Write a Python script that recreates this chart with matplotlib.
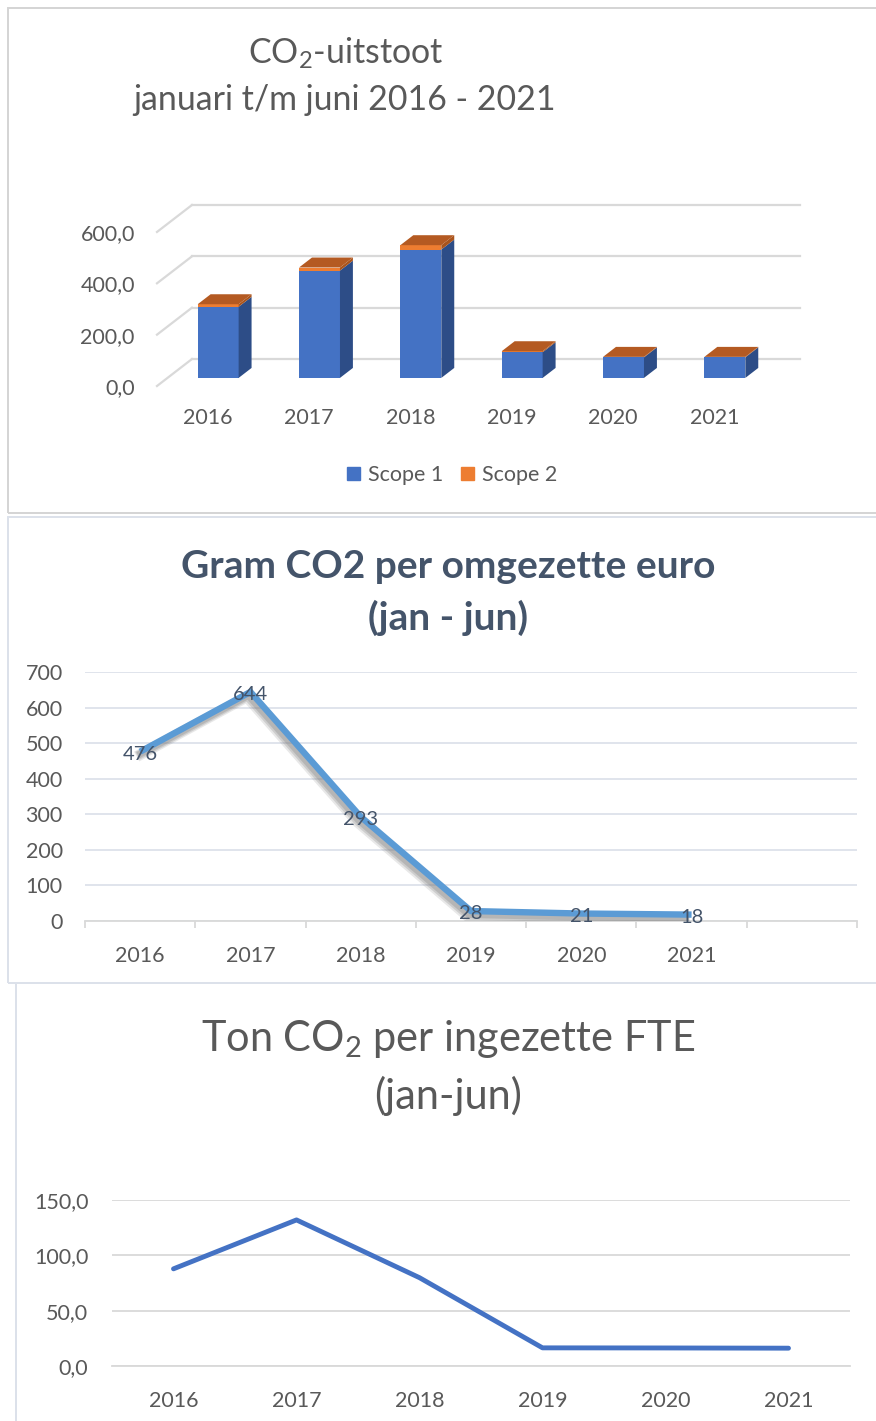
import matplotlib
matplotlib.use('Agg')
import matplotlib.pyplot as plt
from matplotlib.patches import Polygon, Rectangle, Patch
import matplotlib.patheffects as pe
import numpy as np

# ---------------- data ----------------
years = ['2016', '2017', '2018', '2019', '2020', '2021']

scope1 = [277, 418, 500, 100, 80, 80]
scope2 = [10, 12, 17, 4, 2, 2]
co2_yticks = [0, 200, 400, 600]
co2_ytick_labels = ['0,0', '200,0', '400,0', '600,0']

gram_per_euro = [476, 644, 293, 28, 21, 18]
gram_yticks = [0, 100, 200, 300, 400, 500, 600, 700]

ton_per_fte = [87.8, 132.0, 79.8, 16.4, 16.3, 16.1]
fte_yticks = [0, 50, 100, 150]
fte_ytick_labels = ['0,0', '50,0', '100,0', '150,0']

# ---------------- style ----------------
plt.rcParams['font.family'] = ['Lato', 'DejaVu Sans']
plt.rcParams['mathtext.fontset'] = 'custom'
plt.rcParams['mathtext.rm'] = 'Lato'
plt.rcParams['mathtext.it'] = 'Lato:italic'
plt.rcParams['mathtext.bf'] = 'Lato:bold'

GRAY_TXT = '#595959'
GRID = '#D9D9D9'
TICK_FS = 15.5

W, H = 876, 1421
fig = plt.figure(figsize=(W / 100, H / 100), dpi=100)
fig.patch.set_facecolor('white')


def ax_px(x0, y0, x1, y1):
    return fig.add_axes([x0 / W, 1 - y1 / H, (x1 - x0) / W, (y1 - y0) / H])


def fig_text(x, y, s, **kw):
    return fig.text(x / W, 1 - y / H, s, ha='center', va='center', **kw)


def fit(texts, target_px):
    r = fig.canvas.get_renderer()
    w = texts[0].get_window_extent(r).width
    fs = texts[0].get_fontsize() * target_px / w
    for t in texts:
        t.set_fontsize(fs)


# panel borders
fig.add_artist(Rectangle((8 / W, 1 - 513 / H), (W + 20) / W, (513 - 8) / H,
                         transform=fig.transFigure, fill=False, ec='#D4D4D4', lw=1.4))
fig.add_artist(Rectangle((8 / W, 1 - 983 / H), (W + 20) / W, (983 - 517) / H,
                         transform=fig.transFigure, fill=False, ec='#DCE1EA', lw=1.4))
fig.add_artist(Rectangle((16 / W, -0.05), (W + 20) / W, 1 - 983 / H + 0.05,
                         transform=fig.transFigure, fill=False, ec='#DCE1EA', lw=1.4))

# ================= Panel 1: 3D stacked bars =================
DXu, DYu = 0.345, 105.0     # depth offset (category units, value units)
zf, zb = 0.30, 0.67          # bar depth range
bw = 0.404

ax1 = ax_px(157, 205, 800, 386)
ax1.set_xlim(-0.5, 5.5 + DXu)
ax1.set_ylim(0, 600 + DYu)
for s in ax1.spines.values():
    s.set_visible(False)
ax1.patch.set_alpha(0)

for v in co2_yticks:
    ax1.plot([-0.5 + DXu, 5.5 + DXu], [v + DYu] * 2, color=GRID, lw=1.6, zorder=1, clip_on=False)
    ax1.plot([-0.5, -0.5 + DXu], [v, v + DYu], color=GRID, lw=1.6, zorder=1, clip_on=False)

dzx = (zb - zf) * DXu
dzy = (zb - zf) * DYu
base = zf * DYu
xcs = np.arange(len(years)) + zf * DXu
ax1.bar(xcs, scope1, bottom=base, width=bw, color='#4472C4', zorder=3)
ax1.bar(xcs, scope2, bottom=base + np.array(scope1), width=bw, color='#ED7D31', zorder=3)
for xc, a, b in zip(xcs, scope1, scope2):
    x1 = xc + bw / 2
    x0 = xc - bw / 2
    top1 = base + a
    top2 = top1 + b
    ax1.add_patch(Polygon([(x1, base), (x1 + dzx, base + dzy), (x1 + dzx, top1 + dzy), (x1, top1)],
                          closed=True, fc='#2D4D87', ec='none', zorder=3))
    ax1.add_patch(Polygon([(x1, top1), (x1 + dzx, top1 + dzy), (x1 + dzx, top2 + dzy), (x1, top2)],
                          closed=True, fc='#A9541C', ec='none', zorder=3))
    ax1.add_patch(Polygon([(x0, top2), (x1, top2), (x1 + dzx, top2 + dzy), (x0 + dzx, top2 + dzy)],
                          closed=True, fc='#B45A22', ec='none', zorder=3))

ax1.set_yticks(co2_yticks, co2_ytick_labels)
ax1.set_xticks(range(len(years)), years)
ax1.tick_params(axis='both', length=0, colors=GRAY_TXT, labelsize=TICK_FS)
ax1.tick_params(axis='y', pad=16)
ax1.tick_params(axis='x', pad=16)

fig.legend(handles=[Patch(color='#4472C4', label='Scope 1'), Patch(color='#ED7D31', label='Scope 2')],
           loc='center', bbox_to_anchor=(452 / W, 1 - 475 / H), ncol=2, frameon=False,
           handlelength=0.6, handleheight=0.6, handletextpad=0.4, columnspacing=0.8,
           fontsize=15.5, labelcolor=GRAY_TXT)

t1a = fig_text(346, 53, r'CO$_{\mathregular{2}}$-uitstoot', color=GRAY_TXT, fontsize=20)
t1b = fig_text(345, 100, 'januari t/m juni 2016 - 2021', color=GRAY_TXT, fontsize=20)
fit([t1b, t1a], 424)

# ================= Panel 2: gram CO2 per euro =================
ax2 = ax_px(85, 672, 857, 921)
ax2.set_xlim(-0.5, 6.5)
ax2.set_ylim(0, 700)
for k, s in ax2.spines.items():
    s.set_visible(k == 'bottom')
ax2.spines['bottom'].set_color(GRID)
ax2.spines['bottom'].set_linewidth(1.3)
ax2.set_yticks(gram_yticks)
ax2.yaxis.grid(True, color='#DDE2EA', lw=1.3)
ax2.set_axisbelow(True)
ax2.set_xticks(range(len(years)), years)
ax2.set_xticks(np.arange(-0.5, 7.0, 1.0), minor=True)
ax2.tick_params(axis='x', which='minor', length=5, color=GRID, width=1.3)
ax2.tick_params(axis='x', which='major', length=0, pad=18, colors=GRAY_TXT, labelsize=TICK_FS)
ax2.tick_params(axis='y', length=0, pad=16, colors=GRAY_TXT, labelsize=TICK_FS)

shadows = [pe.SimpleLineShadow(offset=off, shadow_color='#808080', alpha=al, linewidth=lw)
           for off, al, lw in [((-2.5, -3.5), 0.18, 8.0), ((-2.0, -3.0), 0.25, 6.5), ((-1.5, -2.5), 0.3, 5.0)]]
ax2.plot(range(len(years)), gram_per_euro, color='#5B9BD5', lw=4.6,
         solid_joinstyle='miter', solid_capstyle='butt', zorder=3,
         path_effects=shadows + [pe.Normal()])
for i, v in enumerate(gram_per_euro):
    ax2.text(i, v - 8, str(v), ha='center', va='center', color='#44546A', fontsize=14.5, zorder=4)

t2a = fig_text(448, 566, 'Gram CO2 per omgezette euro', color='#44546A', fontsize=24, fontweight='bold')
t2b = fig_text(448, 618, '(jan - jun)', color='#44546A', fontsize=24, fontweight='bold')
fit([t2a, t2b], 534)

# ================= Panel 3: ton CO2 per FTE =================
ax3 = ax_px(112, 1200, 850, 1366)
ax3.set_xlim(-0.5, 5.5)
ax3.set_ylim(0, 150)
for k, s in ax3.spines.items():
    s.set_visible(k == 'bottom')
ax3.spines['bottom'].set_color(GRID)
ax3.spines['bottom'].set_linewidth(1.3)
ax3.set_yticks(fte_yticks, fte_ytick_labels)
ax3.yaxis.grid(True, color=GRID, lw=1.3)
ax3.set_axisbelow(True)
ax3.set_xticks(range(len(years)), years)
ax3.tick_params(axis='x', length=0, pad=18, colors=GRAY_TXT, labelsize=TICK_FS)
ax3.tick_params(axis='y', length=0, pad=17, colors=GRAY_TXT, labelsize=TICK_FS)
ax3.plot(range(len(years)), ton_per_fte, color='#4472C4', lw=3.5,
         solid_joinstyle='round', solid_capstyle='round', zorder=3)

t3a = fig_text(448, 1039, r'Ton CO$_{\mathregular{2}}$ per ingezette FTE', color=GRAY_TXT, fontsize=28)
t3b = fig_text(448, 1096, '(jan-jun)', color=GRAY_TXT, fontsize=28)
fit([t3a, t3b], 495)

fig.savefig('out.png', dpi=100, facecolor='white')
